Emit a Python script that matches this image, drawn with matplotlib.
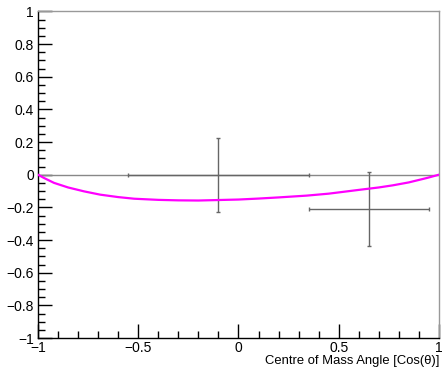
import matplotlib
matplotlib.use("Agg")
import matplotlib.pyplot as plt
from matplotlib.ticker import MultipleLocator, FixedLocator

# Data
pt_x = [-0.10, 0.65]
pt_y = [0.0, -0.21]
pt_xerr = [0.45, 0.30]
pt_yerr_lo = [0.23, 0.224]
pt_yerr_hi = [0.224, 0.224]

curve_x = [-1.0, -0.97, -0.92, -0.85, -0.77, -0.69, -0.6, -0.52, -0.4, -0.3, -0.2,
           -0.1, 0.0, 0.1, 0.2, 0.34, 0.45, 0.6, 0.7, 0.77, 0.85, 0.94, 1.0]
curve_y = [0.0, -0.02, -0.05, -0.078, -0.102, -0.122, -0.137, -0.147, -0.154, -0.157, -0.158,
           -0.155, -0.152, -0.146, -0.139, -0.128, -0.116, -0.093, -0.078, -0.065, -0.047, -0.02, 0.0]

ref_x = [-1.0, 1.0]
ref_y = [0.0, 0.0]

xticks = [-1, -0.5, 0, 0.5, 1]
yticks = [-1, -0.8, -0.6, -0.4, -0.2, 0, 0.2, 0.4, 0.6, 0.8, 1]

plt.rcParams['font.family'] = ['Liberation Sans', 'DejaVu Sans']

fig = plt.figure(figsize=(4.42, 3.69), dpi=100)
ax = fig.add_axes([0.086, 0.084, 0.907, 0.885])

ax.plot(ref_x, ref_y, color='#888888', lw=1.0, zorder=2)
ax.errorbar(pt_x, pt_y, xerr=pt_xerr, yerr=[pt_yerr_lo, pt_yerr_hi], fmt='none',
            ecolor='#666666', elinewidth=1.0, capsize=1.5, capthick=1.0, zorder=3)
ax.plot(curve_x, curve_y, color='#ff00ff', lw=1.6, zorder=4)

ax.set_xlim(-1, 1)
ax.set_ylim(-1, 1)

def fmt(v):
    s = ('%g' % round(v, 2))
    return s.replace('-', '\u2212')

ax.set_xticks(xticks)
ax.set_xticklabels([fmt(v) for v in xticks])
ax.xaxis.set_minor_locator(MultipleLocator(0.1))
ax.set_yticks(yticks)
ax.set_yticklabels([fmt(v) for v in yticks])
ax.yaxis.set_minor_locator(MultipleLocator(0.05))

ax.tick_params(axis='both', which='both', direction='in', top=False, right=False, labelsize=10, color='black')
ax.tick_params(axis='y', which='major', length=10, width=1, pad=3)
ax.tick_params(axis='y', which='minor', length=5, width=1)
ax.tick_params(axis='x', which='major', length=10, width=1, pad=2)
ax.tick_params(axis='x', which='minor', length=5, width=1)

for s in ['top', 'right']:
    ax.spines[s].set_color('#999999')
    ax.spines[s].set_linewidth(1.0)
for s in ['left', 'bottom']:
    ax.spines[s].set_color('black')
    ax.spines[s].set_linewidth(1.0)

ax.set_xlabel('Centre of Mass Angle [Cos(\u03b8)]', fontsize=9.4, ha='right', x=1.0, labelpad=0)

fig.savefig('out.png', dpi=100)
